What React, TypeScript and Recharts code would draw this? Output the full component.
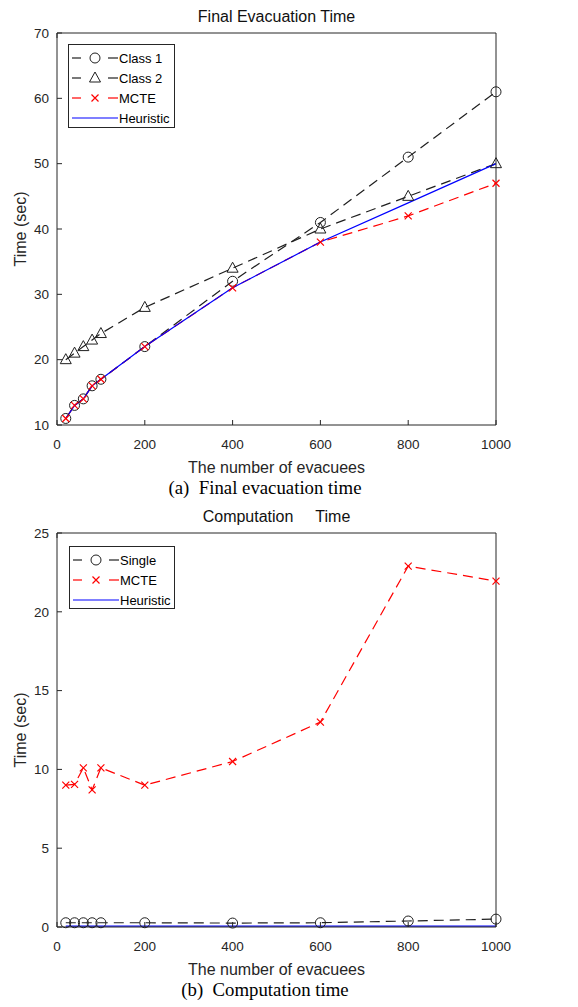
import React from 'react';
import { LineChart, Line, XAxis, YAxis, Legend } from 'recharts';

// x values shared by both panels
const evacuees = [20, 40, 60, 80, 100, 200, 400, 600, 800, 1000];
const xTicks = [0, 200, 400, 600, 800, 1000];

// (a) final evacuation time
const class1Final = [11, 13, 14, 16, 17, 22, 32, 41, 51, 61];
const class2Final = [20, 21, 22, 23, 24, 28, 34, 40, 45, 50];
const mcteFinal = [11, 13, 14, 16, 17, 22, 31, 38, 42, 47];
const heuristicFinal = [11, 13, 14, 16, 17, 22, 31, 38, 44, 50];
const finalTicks = [10, 20, 30, 40, 50, 60, 70];

// (b) computation time
const singleComp = [0.27, 0.27, 0.27, 0.27, 0.27, 0.27, 0.25, 0.27, 0.38, 0.5];
const mcteComp = [9.0, 9.05, 10.1, 8.7, 10.1, 9.0, 10.5, 13.0, 22.9, 21.95];
const heuristicComp = [0.05, 0.05, 0.05, 0.05, 0.05, 0.05, 0.05, 0.05, 0.05, 0.05];
const compTicks = [0, 5, 10, 15, 20, 25];

const finalData = evacuees.map((n, i) => ({
    n,
    class1: class1Final[i],
    class2: class2Final[i],
    mcte: mcteFinal[i],
    heuristic: heuristicFinal[i],
}));

const compData = evacuees.map((n, i) => ({
    n,
    single: singleComp[i],
    mcte: mcteComp[i],
    heuristic: heuristicComp[i],
}));

const AXIS = '#262626';
const BLACK = '#1f1f1f';
const RED = '#ff0000';
const BLUE = '#0000ff';
const FONT = '"Liberation Sans", Arial, sans-serif';
const DASH = '10 6';

type Kind = 'circle' | 'triangle' | 'cross' | 'none';

const Marker = ({ kind, cx, cy, color }: { kind: Kind; cx: number; cy: number; color: string }) => {
    if (kind === 'circle') return <circle cx={cx} cy={cy} r={5} fill="none" stroke={color} strokeWidth={1} />;
    if (kind === 'triangle')
        return <path d={`M${cx},${cy - 6} L${cx + 5.5},${cy + 4} L${cx - 5.5},${cy + 4} Z`} fill="none" stroke={color} strokeWidth={1} />;
    if (kind === 'cross')
        return (
            <path
                d={`M${cx - 3.5},${cy - 3.5} L${cx + 3.5},${cy + 3.5} M${cx - 3.5},${cy + 3.5} L${cx + 3.5},${cy - 3.5}`}
                stroke={color}
                strokeWidth={1.2}
                fill="none"
            />
        );
    return null;
};

const makeDot = (kind: Kind, color: string) => (props: any) => (
    <Marker key={`dot-${props.index}`} kind={kind} cx={props.cx} cy={props.cy} color={color} />
);

interface LegendItem {
    label: string;
    kind: Kind;
    color: string;
    dashed: boolean;
}

const LegendBox = ({ items, width, height }: { items: LegendItem[]; width: number; height: number }) => (
    <div
        style={{
            boxSizing: 'border-box',
            width,
            height,
            border: `1px solid ${AXIS}`,
            background: '#fff',
            padding: '3px 0 0 3px',
            fontFamily: FONT,
            fontSize: 13,
            color: '#000',
        }}
    >
        {items.map(it => (
            <div key={it.label} style={{ display: 'flex', alignItems: 'center', height: 20 }}>
                <svg width={46} height={20} style={{ display: 'block' }}>
                    {it.dashed ? (
                        <>
                            <line x1={0} y1={10} x2={9} y2={10} stroke={it.color} strokeWidth={1.2} />
                            <line x1={36} y1={10} x2={46} y2={10} stroke={it.color} strokeWidth={1.2} />
                        </>
                    ) : (
                        <line x1={0} y1={10} x2={46} y2={10} stroke={it.color} strokeWidth={1.2} />
                    )}
                    <Marker kind={it.kind} cx={23} cy={10} color={it.color} />
                </svg>
                <span style={{ marginLeft: 1, whiteSpace: 'nowrap' }}>{it.label}</span>
            </div>
        ))}
    </div>
);

const finalLegend: LegendItem[] = [
    { label: 'Class 1', kind: 'circle', color: BLACK, dashed: true },
    { label: 'Class 2', kind: 'triangle', color: BLACK, dashed: true },
    { label: 'MCTE', kind: 'cross', color: RED, dashed: true },
    { label: 'Heuristic', kind: 'none', color: BLUE, dashed: false },
];

const compLegend: LegendItem[] = [
    { label: 'Single', kind: 'circle', color: BLACK, dashed: true },
    { label: 'MCTE', kind: 'cross', color: RED, dashed: true },
    { label: 'Heuristic', kind: 'none', color: BLUE, dashed: false },
];

const tickStyle = { fontSize: 13.5, fill: AXIS, fontFamily: FONT };

// shared frame: axes on all four sides, ticks pointing inward like MATLAB
const renderFrame = (title: string, yDomain: [number, number], yTicks: number[]) => [
    <XAxis
        key="xb"
        dataKey="n"
        type="number"
        domain={[0, 1000]}
        ticks={xTicks}
        interval={0}
        height={48}
        tickSize={-5}
        tickMargin={19}
        tick={tickStyle}
        axisLine={{ stroke: AXIS }}
        tickLine={{ stroke: AXIS }}
        label={{ value: 'The number of evacuees', position: 'insideBottom', offset: 0, fontSize: 16, fill: AXIS, fontFamily: FONT }}
    />,
    <XAxis
        key="xt"
        xAxisId="top"
        orientation="top"
        type="number"
        domain={[0, 1000]}
        ticks={xTicks}
        interval={0}
        height={1}
        tickSize={-5}
        tickFormatter={() => ''}
        axisLine={{ stroke: AXIS }}
        tickLine={{ stroke: AXIS }}
        label={{ value: title, position: 'top', offset: 10, fontSize: 16, fill: '#111', fontFamily: FONT }}
    />,
    <YAxis
        key="yl"
        type="number"
        domain={yDomain}
        ticks={yTicks}
        interval={0}
        width={52}
        tickSize={-5}
        tickMargin={13}
        tick={tickStyle}
        axisLine={{ stroke: AXIS }}
        tickLine={{ stroke: AXIS }}
        label={{
            value: 'Time (sec)',
            angle: -90,
            position: 'insideLeft',
            offset: 15,
            fontSize: 16,
            fill: AXIS,
            fontFamily: FONT,
            style: { textAnchor: 'middle' },
        }}
    />,
    <YAxis
        key="yr"
        yAxisId="right"
        orientation="right"
        type="number"
        domain={yDomain}
        ticks={yTicks}
        interval={0}
        width={1}
        tickSize={-5}
        tickFormatter={() => ''}
        axisLine={{ stroke: AXIS }}
        tickLine={{ stroke: AXIS }}
    />,
];

const Caption = ({ text, top }: { text: string; top: number }) => (
    <div
        style={{
            position: 'absolute',
            left: 115,
            width: 300,
            top,
            textAlign: 'center',
            fontFamily: '"Liberation Serif", "Times New Roman", serif',
            fontSize: 18.8,
            lineHeight: '19px',
            color: '#000',
            whiteSpace: 'pre',
        }}
    >
        {text}
    </div>
);

export default function App() {
    return (
        <div style={{ position: 'absolute', left: 0, top: 0, width: 578, height: 1007, background: '#fff' }}>
            <div style={{ position: 'absolute', left: 0, top: 0 }}>
                <LineChart width={578} height={480} data={finalData} margin={{ top: 32, right: 81, bottom: 7, left: 5 }}>
                    {renderFrame('Final Evacuation Time', [10, 70], finalTicks)}
                    <Line dataKey="class1" stroke={BLACK} strokeWidth={1.2} strokeDasharray={DASH} dot={makeDot('circle', BLACK)} isAnimationActive={false} />
                    <Line dataKey="class2" stroke={BLACK} strokeWidth={1.2} strokeDasharray={DASH} dot={makeDot('triangle', BLACK)} isAnimationActive={false} />
                    <Line dataKey="mcte" stroke={RED} strokeWidth={1.2} strokeDasharray={DASH} dot={makeDot('cross', RED)} isAnimationActive={false} />
                    <Line dataKey="heuristic" stroke={BLUE} strokeWidth={1.2} dot={false} isAnimationActive={false} />
                    <Legend
                        layout="vertical"
                        align="center"
                        verticalAlign="middle"
                        wrapperStyle={{ left: 68, top: 44, width: 107, height: 84 }}
                        content={() => <LegendBox items={finalLegend} width={107} height={84} />}
                    />
                </LineChart>
            </div>
            <Caption text={'(a)\u00a0 Final evacuation time'} top={478} />
            <div style={{ position: 'absolute', left: 0, top: 500 }}>
                <LineChart width={578} height={480} data={compData} margin={{ top: 32, right: 81, bottom: 5, left: 5 }}>
                    {renderFrame('Computation\u00a0\u00a0\u00a0\u00a0 Time', [0, 25], compTicks)}
                    <Line dataKey="single" stroke={BLACK} strokeWidth={1.2} strokeDasharray={DASH} dot={makeDot('circle', BLACK)} isAnimationActive={false} />
                    <Line dataKey="mcte" stroke={RED} strokeWidth={1.2} strokeDasharray={DASH} dot={makeDot('cross', RED)} isAnimationActive={false} />
                    <Line dataKey="heuristic" stroke={BLUE} strokeWidth={1.2} dot={false} isAnimationActive={false} />
                    <Legend
                        layout="vertical"
                        align="center"
                        verticalAlign="middle"
                        wrapperStyle={{ left: 69, top: 46, width: 106, height: 63 }}
                        content={() => <LegendBox items={compLegend} width={106} height={63} />}
                    />
                </LineChart>
            </div>
            <Caption text={'(b)\u00a0 Computation time'} top={980} />
        </div>
    );
}
